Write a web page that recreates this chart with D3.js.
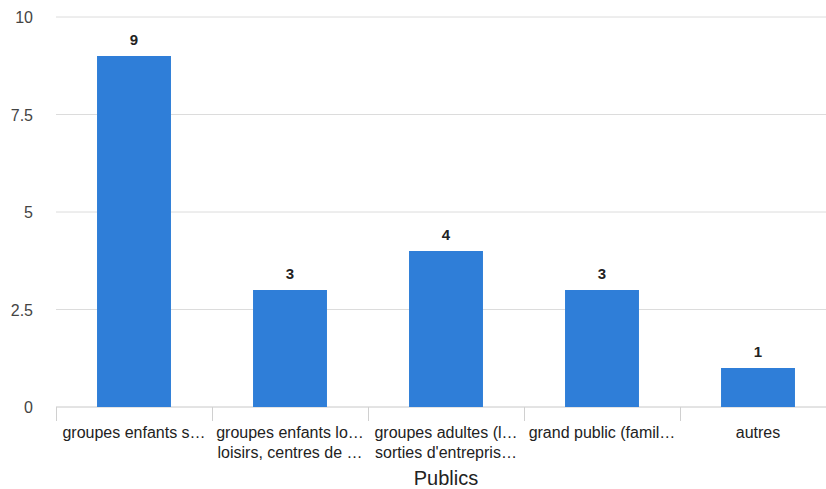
<!DOCTYPE html>
<html>
<head>
<meta charset="utf-8">
<script src="https://cdn.jsdelivr.net/npm/d3@7"></script>
<style>
  body { margin: 0; background: #fff; }
  text { font-family: "Liberation Sans", Arial, sans-serif; }
</style>
</head>
<body>
<svg id="chart"></svg>
<script>
// data
let categories = ["groupes enfants s\u2026", "groupes enfants lo\u2026", "groupes adultes (l\u2026", "grand public (famil\u2026", "autres"];
let secondLines = ["", "loisirs, centres de \u2026", "sorties d'entrepris\u2026", "", ""];
let values = [9, 3, 4, 3, 1];
let yTicks = [0, 2.5, 5, 7.5, 10];
let xTitle = "Publics";

// sizes
let widthSVG = 826;
let heightSVG = 489;
let margins = { top: 17, bottom: 82, left: 56, right: -10 };
let width = widthSVG - margins.left - margins.right;
let height = heightSVG - margins.top - margins.bottom;

let SVG = d3.select('svg#chart')
  .attr('width', widthSVG)
  .attr('height', heightSVG);

let SVGG = SVG.append('g')
  .attr('transform', `translate(${margins.left}, ${margins.top})`);

let x = d3.scaleBand().domain(categories).range([0, width]).paddingInner(0.526).paddingOuter(0.263);
let y = d3.scaleLinear().domain([0, 10]).range([height, 0]);

// gridlines
SVGG.selectAll('line.grid')
  .data(yTicks)
  .enter()
  .append('line')
  .attr('class', 'grid')
  .attr('x1', 0)
  .attr('x2', width)
  .attr('y1', d => y(d))
  .attr('y2', d => y(d))
  .style('stroke', d => d === 0 ? '#c8c8c8' : '#dcdcdc')
  .style('stroke-width', '1px');

// y labels
SVGG.selectAll('text.ylab')
  .data(yTicks)
  .enter()
  .append('text')
  .attr('class', 'ylab')
  .attr('x', -23)
  .attr('y', d => y(d) + 6)
  .style('text-anchor', 'end')
  .style('font-size', '16px')
  .style('fill', '#444')
  .text(d => d);

// category separators
let step = x.step();
let bounds = d3.range(categories.length).map(i => i * step);
SVGG.selectAll('line.sep')
  .data(bounds)
  .enter()
  .append('line')
  .attr('class', 'sep')
  .attr('x1', d => d + 0.5)
  .attr('x2', d => d + 0.5)
  .attr('y1', height)
  .attr('y2', height + 14)
  .style('stroke', '#d0d0d0')
  .style('stroke-width', '1px');

// bars
SVGG.selectAll('rect.bar')
  .data(values)
  .enter()
  .append('rect')
  .attr('class', 'bar')
  .attr('x', (d, i) => x(categories[i]))
  .attr('y', d => y(d))
  .attr('width', x.bandwidth())
  .attr('height', d => height - y(d))
  .style('fill', '#2f7ed8');

// value labels
SVGG.selectAll('text.val')
  .data(values)
  .enter()
  .append('text')
  .attr('class', 'val')
  .attr('x', (d, i) => x(categories[i]) + x.bandwidth() / 2)
  .attr('y', d => y(d) - 11)
  .style('text-anchor', 'middle')
  .style('font-size', '15px')
  .style('font-weight', '700')
  .style('fill', '#222')
  .text(d => d);

// category labels
let catG = SVGG.selectAll('g.cat')
  .data(categories)
  .enter()
  .append('g')
  .attr('class', 'cat')
  .attr('transform', d => `translate(${x(d) + x.bandwidth() / 2}, ${height})`);

catG.append('text')
  .attr('y', 31)
  .style('text-anchor', 'middle')
  .style('font-size', '16px')
  .style('fill', '#222')
  .text(d => d);

catG.append('text')
  .attr('y', 51)
  .style('text-anchor', 'middle')
  .style('font-size', '16px')
  .style('fill', '#222')
  .text((d, i) => secondLines[i]);

// axis title
SVGG.append('text')
  .attr('x', width / 2)
  .attr('y', height + 78)
  .style('text-anchor', 'middle')
  .style('font-size', '20px')
  .style('fill', '#222')
  .text(xTitle);
</script>
</body>
</html>
